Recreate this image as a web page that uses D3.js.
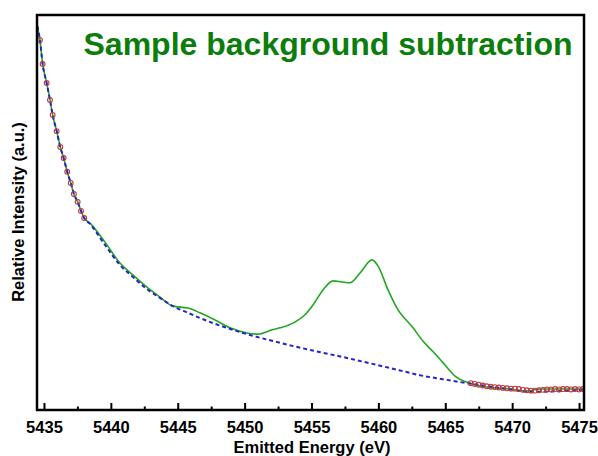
<!DOCTYPE html>
<html><head><meta charset="utf-8">
<script src="https://cdn.jsdelivr.net/npm/d3@7"></script>
<style>body{margin:0;background:#fff}svg{display:block}text{font-family:"Liberation Sans",Arial,sans-serif}</style>
</head><body><svg id="c" width="598" height="456"></svg>
<script>
// Sample spectrum (green line)
const sampleE = [5434.5,5434.7,5434.9,5435.2,5435.45,5435.65,5435.95,5436.22,5436.47,5436.74,5437.0,5437.24,5437.52,5437.77,5438.01,5438.44,5439.56,5440.68,5441.65,5442.7,5443.67,5444.64,5445.77,5446.66,5447.79,5448.91,5450.18,5451.0,5452.05,5452.64,5453.62,5454.51,5455.11,5455.86,5456.61,5457.28,5457.88,5458.63,5459.52,5459.97,5460.72,5461.39,5462.59,5463.34,5464.08,5464.83,5465.73,5466.85,5468.12,5469.84,5471.11,5472.08,5473.58,5475.37];
const sampleI = [97.2,93.7,87.6,82.8,78.5,74.7,70.6,66.6,63.8,60.3,57.5,54.7,52.7,50.4,48.6,47.3,42.5,37.2,34.2,31.1,28.6,26.3,25.8,24.6,22.8,20.8,19.5,19.2,20.3,20.8,22.0,24.1,26.6,30.4,32.7,32.4,32.2,34.7,38.0,36.5,30.4,25.8,20.8,17.4,14.8,12.0,8.6,6.8,5.8,5.3,4.8,5.3,5.3,5.3];
// Fitted background (blue dashed)
const bgE = [5434.5,5434.7,5434.9,5435.2,5435.45,5435.65,5435.95,5436.22,5436.47,5436.74,5437.0,5437.24,5437.52,5437.77,5438.01,5438.44,5439.56,5440.68,5441.65,5442.7,5443.67,5444.64,5445.77,5446.66,5449.88,5452.42,5454.89,5457.36,5459.9,5461.62,5463.1,5464.8,5466.63,5469.09,5471.56,5475.37];
const bgI = [97.2,93.7,87.6,82.8,78.5,74.7,70.6,66.6,63.8,60.3,57.5,54.7,52.7,50.4,48.6,47.1,41.8,36.7,33.7,30.6,28.4,26.3,24.6,23.3,19.5,17.2,15.2,13.4,11.4,10.0,8.8,7.8,6.8,5.6,4.6,5.1];
// Fit regions (red circles)
const fitE = [5434.7,5434.9,5435.2,5435.45,5435.65,5435.95,5436.22,5436.47,5436.74,5437.0,5437.24,5437.52,5437.77,5438.01,
  5466.9,5467.2,5467.5,5467.8,5468.1,5468.4,5468.7,5469.0,5469.3,5469.6,5469.9,5470.2,5470.5,5470.8,5471.1,5471.4,5471.7,5472.0,5472.3,5472.6,5472.9,5473.2,5473.5,5473.8,5474.1,5474.4,5474.7,5475.0,5475.3];
const fitI = [93.7,87.6,82.8,78.5,74.7,70.6,66.6,63.8,60.3,57.5,54.7,52.7,50.4,48.6,
  6.8,6.6,6.4,6.2,6.0,5.9,5.8,5.7,5.6,5.5,5.4,5.4,5.3,5.1,5.0,4.9,4.9,5.0,5.1,5.2,5.2,5.3,5.2,5.3,5.3,5.2,5.3,5.2,5.3];
const majorTicks = [5435,5440,5445,5450,5455,5460,5465,5470,5475];
const minorTicks = [5437.5,5442.5,5447.5,5452.5,5457.5,5462.5,5467.5,5472.5];
const titleText = "Sample background subtraction";
const xTitle = "Emitted Energy (eV)";
const yTitle = "Relative Intensity (a.u.)";

const L=37,T=15,R=584,B=410;
const svg=d3.select("#c");
const x=d3.scaleLinear().domain([5434.48,5475.37]).range([L,R]);
const y=d3.scaleLinear().domain([0,100]).range([B,T]);
svg.append("clipPath").attr("id","cl").append("rect").attr("x",L).attr("y",T).attr("width",R-L).attr("height",B-T);
const g=svg.append("g").attr("clip-path","url(#cl)");
const line=d3.line().x(d=>x(d[0])).y(d=>y(d[1])).curve(d3.curveMonotoneX);
g.append("path").datum(sampleE.map((e,i)=>[e,sampleI[i]])).attr("d",line)
 .attr("fill","none").attr("stroke","#22a722").attr("stroke-width",1.6);
g.append("path").datum(bgE.map((e,i)=>[e,bgI[i]])).attr("d",line)
 .attr("fill","none").attr("stroke","#2424cc").attr("stroke-width",2).attr("stroke-dasharray","4,3");
g.selectAll("circle").data(fitE.map((e,i)=>[e,fitI[i]])).join("circle")
 .attr("cx",d=>x(d[0])).attr("cy",d=>y(d[1])).attr("r",2.4)
 .attr("fill","none").attr("stroke","#c0393b").attr("stroke-width",1.1);

const ax=svg.append("g").attr("transform",`translate(0,${B})`)
 .call(d3.axisBottom(x).tickValues(majorTicks).tickSizeInner(-7).tickSizeOuter(0).tickPadding(11).tickFormat(d3.format("d")));
ax.select(".domain").remove();
ax.selectAll("line").attr("stroke","#000").attr("stroke-width",2);
ax.selectAll("text").attr("font-size",16.5).attr("font-weight","bold").attr("fill","#000");
const axm=svg.append("g").attr("transform",`translate(0,${B})`)
 .call(d3.axisBottom(x).tickValues(minorTicks).tickSizeInner(-3.5).tickSizeOuter(0).tickFormat(""));
axm.select(".domain").remove();
axm.selectAll("line").attr("stroke","#000").attr("stroke-width",2);

svg.append("rect").attr("x",L).attr("y",T).attr("width",R-L).attr("height",B-T)
 .attr("fill","none").attr("stroke","#000").attr("stroke-width",2.5);

svg.append("text").attr("x",328).attr("y",55).attr("text-anchor","middle")
 .attr("font-size",32).attr("font-weight","bold").attr("fill","#0b7d0b").text(titleText);
svg.append("text").attr("x",312).attr("y",453).attr("text-anchor","middle")
 .attr("font-size",16.5).attr("font-weight","bold").attr("fill","#000").text(xTitle);
svg.append("text").attr("transform","translate(24,212) rotate(-90)").attr("text-anchor","middle")
 .attr("font-size",16.5).attr("font-weight","bold").attr("fill","#000").text(yTitle);
</script></body></html>
